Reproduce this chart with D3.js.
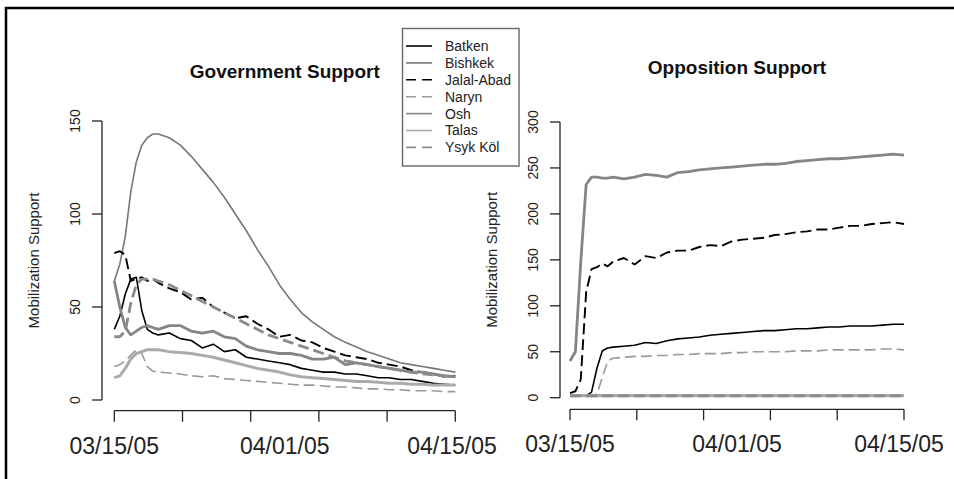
<!DOCTYPE html>
<html>
<head>
<meta charset="utf-8">
<script src="https://cdn.jsdelivr.net/npm/d3@7"></script>
<style>
  body { margin: 0; background: #fff; }
  svg { display: block; font-family: "Liberation Sans", Arial, sans-serif; }
</style>
</head>
<body>
<svg id="chart" width="954" height="479"></svg>
<script>
// days since 03/15/05
const days = [0, 0.5, 1, 1.5, 2, 2.5, 3, 3.5, 4, 5, 6, 7, 8, 9, 10, 11, 12, 13, 14, 15,
  16, 17, 18, 19, 20, 21, 22, 23, 24, 25, 26, 27, 28, 29, 30, 31];

const regions = ['Batken', 'Bishkek', 'Jalal-Abad', 'Naryn', 'Osh', 'Talas', 'Ysyk Köl'];

// Government support
const govBatken = [38, 45, 57, 65, 66, 48, 38, 36, 35, 36, 33, 32, 28, 30, 26, 27, 23, 22, 21,
  20, 19, 17, 16, 15, 15, 14, 14, 13, 12, 12, 11, 11, 10, 9, 8.5, 8];
const govBishkek = [64, 73, 88, 112, 128, 137, 141, 143, 143, 141, 137, 131, 124, 117, 109, 100, 91, 81, 72,
  62, 54, 47, 42, 38, 34, 31, 28.5, 26, 24, 22, 20, 19, 18, 17, 16, 15];
const govJalal = [79, 80, 78, 64, 65, 66, 64, 65, 63, 60, 58, 54, 55, 50, 47, 44, 45, 41, 38,
  34, 35, 32, 31, 28, 26, 24, 23, 22, 20, 19, 18, 16, 15, 14, 12.5, 13];
const govNaryn = [18, 19, 21, 24, 27, 25, 18, 15.5, 15, 14.5, 14, 13, 12.5, 13, 11.5, 11, 10.5, 10, 9.5,
  9, 8.5, 8, 8, 7.5, 7, 7, 6.5, 6, 6, 5.5, 5.5, 5, 5, 5, 4.5, 4.5];
const govOsh = [64, 50, 39, 35, 37, 39, 40, 39, 38, 40, 40, 37, 36, 37, 34, 33, 29, 27, 26,
  25, 25, 24, 22, 22, 23, 19, 20, 19, 18, 17, 16, 15, 15, 14, 13, 12.5];
const govTalas = [12, 13, 17, 22, 25, 26, 27, 27, 27, 26, 25.5, 25, 24, 23, 21.5, 20, 18.5, 17, 16,
  15, 13.5, 12.5, 12, 11.5, 11, 10.5, 10, 10, 9.5, 9, 9, 8.5, 8.5, 8, 8, 8];
const govYsyk = [34, 34, 37, 52, 62, 65, 65, 65, 64, 62, 59, 56, 53, 50, 47, 44, 41, 38, 35,
  33, 31, 29, 27, 25, 23, 21, 20, 19, 18, 17, 16, 15, 14, 13.5, 13, 12.5];

// Opposition support
const oppBatken = [2, 2, 2, 2, 6, 32, 51, 54, 55, 56, 57, 60, 59, 62, 64, 65, 66, 68, 69,
  70, 71, 72, 73, 73, 74, 75, 75, 76, 77, 77, 78, 78, 78, 79, 80, 80];
const oppBishkek = [3, 3, 3, 3, 3, 3, 3, 3, 3, 3, 3, 3, 3, 3, 3, 3, 3, 3, 3,
  3, 3, 3, 3, 3, 3, 3, 3, 3, 3, 3, 3, 3, 3, 3, 3, 3];
const oppJalal = [5, 7, 20, 115, 140, 142, 146, 143, 148, 152, 145, 154, 152, 158, 160, 160, 164, 166, 165,
  170, 172, 173, 174, 177, 178, 180, 181, 183, 183, 185, 187, 187, 189, 190, 191, 189];
const oppNaryn = [2, 2, 2, 2, 2, 4, 22, 40, 43, 44, 45, 45, 46, 46, 47, 47, 48, 48, 48,
  49, 49, 50, 50, 50, 50, 51, 51, 51, 52, 52, 52, 52, 52, 53, 53, 52];
const oppOsh = [40, 50, 148, 232, 240, 240, 239, 239, 240, 238, 240, 243, 242, 240, 245, 246, 248, 249, 250,
  251, 252, 253, 254, 254, 255, 257, 258, 259, 260, 260, 261, 262, 263, 264, 265, 264];
const oppTalas = [2, 2, 2, 2, 2, 2, 2, 2, 2, 2, 2, 2, 2, 2, 2, 2, 2, 2, 2,
  2, 2, 2, 2, 2, 2, 2, 2, 2, 2, 2, 2, 2, 2, 2, 2, 2];
const oppYsyk = [2, 2, 2, 2, 2, 2, 2, 2, 2, 2, 2, 2, 2, 2, 2, 2, 2, 2, 2,
  2, 2, 2, 2, 2, 2, 2, 2, 2, 2, 2, 2, 2, 2, 2, 2, 2];

const xTickLabels = ['03/15/05', '04/01/05', '04/15/05'];
const govTicks = [0, 50, 100, 150];
const oppTicks = [0, 50, 100, 150, 200, 250, 300];

// line looks per region (R style greys / dashes)
const styles = {
  'Batken':     { color: '#000', width: 1.6, dash: null },
  'Bishkek':    { color: '#777', width: 1.6, dash: null },
  'Jalal-Abad': { color: '#000', width: 1.9, dash: '11,5' },
  'Naryn':      { color: '#999', width: 1.6, dash: '11,5' },
  'Osh':        { color: '#858585', width: 2.8, dash: null },
  'Talas':      { color: '#aaa', width: 3, dash: null },
  'Ysyk Köl':   { color: '#8a8a8a', width: 2.8, dash: '11,5' }
};

const svg = d3.select('#chart');

// outer frame (only top and left edges are inside the picture)
svg.append('path')
  .attr('d', 'M6,479V8H954')
  .attr('fill', 'none')
  .attr('stroke', '#000')
  .attr('stroke-width', 2.5);

function drawPanel(opts) {
  const x = d3.scaleLinear().domain([0, 31]).range(opts.xRange);
  const y = d3.scaleLinear().domain([0, opts.yMax]).range(opts.yRange);
  const g = svg.append('g');

  // lines
  const line = d3.line().x((d, i) => x(days[i])).y(d => y(d));
  opts.series.forEach((vals, i) => {
    const s = styles[regions[i]];
    g.append('path')
      .attr('d', line(vals))
      .attr('fill', 'none')
      .attr('stroke', s.color)
      .attr('stroke-width', s.width)
      .attr('stroke-dasharray', s.dash)
      .attr('stroke-linejoin', 'round');
  });

  // y axis, R style: line only across tick range, rotated labels
  const yAxis = g.append('g').attr('transform', `translate(${opts.yAxisX},0)`);
  yAxis.append('line')
    .attr('y1', y(opts.ticks[0])).attr('y2', y(opts.ticks[opts.ticks.length - 1]))
    .attr('stroke', '#222').attr('stroke-width', 1.3);
  opts.ticks.forEach(t => {
    yAxis.append('line')
      .attr('x1', 0).attr('x2', -10)
      .attr('y1', y(t)).attr('y2', y(t))
      .attr('stroke', '#222').attr('stroke-width', 1.3);
    yAxis.append('text')
      .attr('transform', `translate(-22,${y(t)}) rotate(-90)`)
      .attr('text-anchor', 'middle')
      .attr('font-size', 14)
      .attr('fill', '#222')
      .text(t);
  });
  g.append('text')
    .attr('transform', `translate(${opts.yAxisX - 63},${(opts.yRange[0] + opts.yRange[1]) / 2}) rotate(-90)`)
    .attr('text-anchor', 'middle')
    .attr('font-size', 15)
    .attr('fill', '#222')
    .text('Mobilization Support');

  // x axis: 6 ticks, 3 date labels
  const xAxis = g.append('g').attr('transform', `translate(0,${opts.xAxisY})`);
  xAxis.append('line')
    .attr('x1', x(0)).attr('x2', x(31))
    .attr('stroke', '#222').attr('stroke-width', 1.3);
  d3.range(6).map(i => i * 31 / 5).forEach(t => {
    xAxis.append('line')
      .attr('x1', x(t)).attr('x2', x(t))
      .attr('y1', 0).attr('y2', 11)
      .attr('stroke', '#222').attr('stroke-width', 1.3);
  });
  [0, 15.5, 31].forEach((t, i) => {
    xAxis.append('text')
      .attr('x', Math.min(x(t), opts.lastLabelMax))
      .attr('y', 43)
      .attr('text-anchor', 'middle')
      .attr('font-size', 23)
      .attr('fill', '#222')
      .text(xTickLabels[i]);
  });

  // title
  g.append('text')
    .attr('x', (opts.xRange[0] + opts.xRange[1]) / 2)
    .attr('y', opts.titleY)
    .attr('text-anchor', 'middle')
    .attr('font-size', 19)
    .attr('font-weight', 'bold')
    .attr('fill', '#111')
    .text(opts.title);
}

drawPanel({
  title: 'Government Support',
  titleY: 78,
  series: [govBatken, govBishkek, govJalal, govNaryn, govOsh, govTalas, govYsyk],
  yMax: 150, ticks: govTicks,
  xRange: [114.3, 455.3], yRange: [400, 121],
  yAxisX: 102, xAxisY: 410.7,
  lastLabelMax: 452
});

drawPanel({
  title: 'Opposition Support',
  titleY: 74,
  series: [oppBatken, oppBishkek, oppJalal, oppNaryn, oppOsh, oppTalas, oppYsyk],
  yMax: 300, ticks: oppTicks,
  xRange: [570, 904], yRange: [397.7, 122],
  yAxisX: 560, xAxisY: 409.3,
  lastLabelMax: 899
});

// legend
const legend = svg.append('g');
legend.append('rect')
  .attr('x', 402.5).attr('y', 28.5)
  .attr('width', 116.5).attr('height', 137.5)
  .attr('fill', '#fff')
  .attr('stroke', '#666')
  .attr('stroke-width', 1.4);
regions.forEach((r, i) => {
  const s = styles[r];
  const ly = 46 + i * 16.9;
  legend.append('line')
    .attr('x1', 406).attr('x2', 432)
    .attr('y1', ly).attr('y2', ly)
    .attr('stroke', s.color)
    .attr('stroke-width', 1.6)
    .attr('stroke-dasharray', s.dash ? '10,6' : null);
  legend.append('text')
    .attr('x', 445).attr('y', ly)
    .attr('dy', '0.35em')
    .attr('font-size', 14)
    .attr('fill', '#222')
    .text(r);
});
</script>
</body>
</html>
